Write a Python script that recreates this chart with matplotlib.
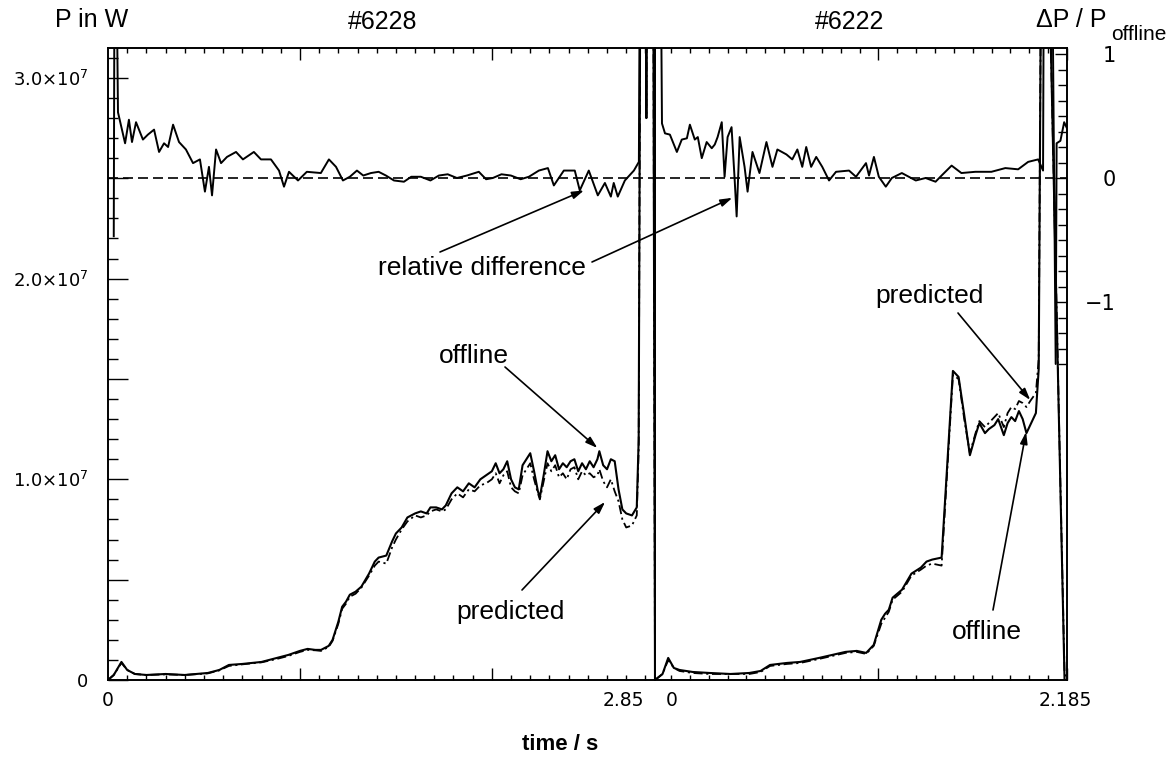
import numpy as np
import matplotlib.pyplot as plt

# shot #6228, time in s, power in MW
t_6228 = [0.00, 0.03, 0.07, 0.10, 0.14, 0.20, 0.30, 0.40, 0.52, 0.58,
          0.63, 0.70, 0.80, 0.88, 0.94, 1.00, 1.04, 1.08, 1.11, 1.15,
          1.17, 1.20, 1.22, 1.24, 1.26, 1.29, 1.32, 1.36, 1.39, 1.41,
          1.45, 1.48, 1.50, 1.53, 1.56, 1.60, 1.63, 1.66, 1.68, 1.71,
          1.74, 1.76, 1.79, 1.82, 1.85, 1.88, 1.91, 1.94, 1.97, 2.00,
          2.02, 2.04, 2.06, 2.08, 2.10, 2.12, 2.14, 2.16, 2.18, 2.20,
          2.22, 2.24, 2.25, 2.27, 2.29, 2.31, 2.33, 2.35, 2.37, 2.39,
          2.41, 2.43, 2.45, 2.47, 2.49, 2.51, 2.53, 2.55, 2.56, 2.58,
          2.60, 2.62, 2.64, 2.66, 2.68, 2.70, 2.73, 2.755, 2.765, 2.775,
          2.80, 2.805, 2.81, 2.84, 2.85]
p_offline_6228 = [0.0, 0.25, 0.9, 0.5, 0.3, 0.25, 0.3, 0.25, 0.35, 0.5,
                  0.75, 0.8, 0.9, 1.1, 1.25, 1.45, 1.55, 1.5, 1.5, 1.7,
                  2.0, 2.9, 3.65, 3.9, 4.25, 4.4, 4.65, 5.3, 5.9, 6.1,
                  6.2, 6.9, 7.3, 7.6, 8.1, 8.3, 8.4, 8.3, 8.6, 8.6,
                  8.5, 8.7, 9.3, 9.6, 9.4, 9.8, 9.6, 10.0, 10.2, 10.4,
                  10.8, 10.3, 10.5, 10.9, 10.0, 9.6, 9.5, 10.7, 11.0, 11.3,
                  10.4, 9.4, 9.1, 10.2, 11.4, 10.9, 11.2, 10.5, 10.8, 10.6,
                  10.9, 11.0, 10.4, 10.8, 10.5, 10.9, 10.6, 11.0, 11.4, 10.7,
                  10.5, 11.0, 10.9, 9.5, 8.5, 8.3, 8.2, 8.6, 12.0, 40.0,
                  40.0, 28.0, 40.0, 40.0, 0.0]
p_predicted_6228 = [0.0, 0.25, 0.85, 0.5, 0.3, 0.25, 0.28, 0.25, 0.33, 0.48,
                    0.7, 0.78, 0.88, 1.05, 1.2, 1.4, 1.5, 1.48, 1.45, 1.65,
                    1.95, 2.8, 3.55, 3.8, 4.15, 4.3, 4.6, 5.2, 5.7, 5.9,
                    5.8, 6.6, 7.0, 7.5, 7.9, 8.2, 8.1, 8.2, 8.4, 8.5,
                    8.4, 8.5, 9.0, 9.3, 9.1, 9.5, 9.4, 9.7, 9.8, 10.0,
                    10.3, 9.8, 10.2, 10.4, 9.6, 9.4, 9.3, 10.2, 10.5, 10.8,
                    10.0, 9.3, 9.0, 9.9, 10.8, 10.4, 10.7, 10.1, 10.3, 10.0,
                    10.5, 10.6, 10.0, 10.4, 10.2, 10.3, 10.1, 10.2, 10.5, 9.9,
                    9.6, 10.0, 9.4, 8.9, 8.0, 7.6, 7.7, 8.2, 11.5, 40.0,
                    40.0, 28.0, 40.0, 40.0, 0.0]
t_rel_6228 = [0.030, 0.036, 0.052, 0.089, 0.109, 0.125, 0.146, 0.182, 0.208, 0.240,
              0.266, 0.292, 0.313, 0.339, 0.370, 0.406, 0.443, 0.479, 0.505, 0.526,
              0.542, 0.563, 0.589, 0.620, 0.667, 0.703, 0.760, 0.797, 0.849, 0.891,
              0.917, 0.943, 0.990, 1.036, 1.109, 1.151, 1.188, 1.224, 1.260, 1.297,
              1.330, 1.370, 1.410, 1.448, 1.490, 1.542, 1.580, 1.630, 1.680, 1.724,
              1.770, 1.818, 1.870, 1.932, 1.970, 2.005, 2.050, 2.099, 2.150, 2.193,
              2.245, 2.292, 2.323, 2.375, 2.432, 2.458, 2.505, 2.552, 2.589, 2.620,
              2.635, 2.656, 2.693, 2.740, 2.766, 2.775, 2.850]
rel_6228 = [-0.47, 3.0, 0.53, 0.28, 0.47, 0.29, 0.45, 0.31, 0.35, 0.39,
            0.21, 0.28, 0.25, 0.43, 0.29, 0.23, 0.12, 0.15, -0.11, 0.09,
            -0.14, 0.23, 0.12, 0.17, 0.21, 0.15, 0.21, 0.15, 0.15, 0.06,
            -0.07, 0.05, -0.02, 0.05, 0.04, 0.15, 0.09, -0.02, 0.01, 0.06,
            0.02, 0.04, 0.05, 0.02, -0.02, -0.03, 0.01, 0.01, -0.02, 0.02,
            0.03, 0.00, 0.02, 0.05, -0.01, 0.00, 0.03, 0.02, -0.01, 0.01,
            0.06, 0.08, -0.06, 0.06, 0.06, -0.10, 0.06, -0.14, -0.04, -0.15,
            -0.04, -0.15, -0.02, 0.06, 0.13, 3.0, 3.0]

# shot #6222
t_6222 = [0.00, 0.04, 0.07, 0.10, 0.13, 0.20, 0.29, 0.40, 0.50, 0.56,
          0.61, 0.70, 0.77, 0.82, 0.87, 0.94, 1.01, 1.07, 1.12, 1.16,
          1.20, 1.22, 1.24, 1.26, 1.31, 1.36, 1.41, 1.44, 1.47, 1.52,
          1.58, 1.61, 1.64, 1.67, 1.70, 1.72, 1.75, 1.77, 1.80, 1.82,
          1.85, 1.87, 1.89, 1.91, 1.93, 1.95, 1.97, 1.99, 2.02, 2.035,
          2.05, 2.08, 2.172, 2.185]
p_offline_6222 = [0.0, 0.3, 1.1, 0.6, 0.5, 0.4, 0.35, 0.3, 0.35, 0.45,
                  0.75, 0.85, 0.9, 1.0, 1.1, 1.25, 1.4, 1.45, 1.35, 1.75,
                  3.0, 3.3, 3.5, 4.1, 4.5, 5.3, 5.6, 5.9, 6.0, 6.1,
                  15.4, 15.1, 13.2, 11.2, 12.2, 12.8, 12.3, 12.5, 12.7, 13.0,
                  12.2, 12.8, 13.1, 12.9, 13.4, 13.0, 12.3, 12.7, 13.3, 15.5,
                  40.0, 40.0, 0.0, 0.0]
p_predicted_6222 = [0.0, 0.3, 1.0, 0.6, 0.45, 0.35, 0.3, 0.3, 0.3, 0.4,
                    0.7, 0.8, 0.85, 0.95, 1.05, 1.2, 1.35, 1.4, 1.3, 1.7,
                    2.8, 3.1, 3.4, 4.0, 4.4, 5.2, 5.5, 5.7, 5.8, 5.7,
                    15.2, 15.0, 13.0, 11.3, 12.3, 12.9, 12.6, 12.8, 13.1, 13.3,
                    12.6, 13.3, 13.6, 13.5, 13.9, 13.8, 13.6, 13.9, 14.3, 16.0,
                    40.0, 40.0, 0.3, 0.0]
t_rel_6222 = [0.025, 0.037, 0.053, 0.079, 0.116, 0.142, 0.169, 0.185, 0.211, 0.227,
              0.248, 0.274, 0.301, 0.317, 0.332, 0.354, 0.369, 0.385, 0.406, 0.422,
              0.433, 0.449, 0.475, 0.491, 0.517, 0.554, 0.591, 0.623, 0.649, 0.697,
              0.728, 0.755, 0.781, 0.802, 0.828, 0.855, 0.887, 0.923, 0.960, 1.029,
              1.066, 1.119, 1.135, 1.161, 1.187, 1.224, 1.256, 1.309, 1.383, 1.435,
              1.488, 1.520, 1.573, 1.625, 1.699, 1.784, 1.858, 1.926, 1.979, 2.032,
              2.058, 2.065, 2.100, 2.125, 2.130, 2.150, 2.170, 2.185]
rel_6222 = [3.0, 0.44, 0.36, 0.35, 0.21, 0.31, 0.32, 0.43, 0.31, 0.33,
            0.16, 0.29, 0.24, 0.27, 0.33, 0.45, 0.01, 0.33, 0.41, 0.0,
            -0.31, 0.33, 0.09, -0.11, 0.21, 0.04, 0.29, 0.09, 0.23, 0.19,
            0.15, 0.23, 0.09, 0.25, 0.09, 0.17, 0.09, -0.02, 0.05, 0.06,
            0.01, 0.12, 0.02, 0.17, 0.01, -0.07, 0.0, 0.04, -0.02, 0.0,
            -0.03, 0.02, 0.10, 0.04, 0.05, 0.05, 0.08, 0.07, 0.13, 0.15,
            0.06, 3.0, 3.0, -1.5, 0.28, 0.30, 0.45, 0.40]

plt.rcParams['font.family'] = 'DejaVu Sans'
plt.rcParams['mathtext.default'] = 'regular'

W, H = 1170, 759
fig = plt.figure(figsize=(W / 100, H / 100), dpi=100)


def box(x0, x1, y0=48, y1=680):
    return [x0 / W, 1 - y1 / H, (x1 - x0) / W, (y1 - y0) / H]


def px(x, y):
    return x / W, 1 - y / H


axL = fig.add_axes(box(108, 655))
axR = fig.add_axes(box(655, 1067))
axL2 = axL.twinx()
axR2 = axR.twinx()

dashdot = (0, (5, 2, 1.2, 2))
axL.plot(t_6228, np.array(p_offline_6228) * 1e6, color='k', lw=1.5)
axL.plot(t_6228, np.array(p_predicted_6228) * 1e6, color='k', lw=1.3, ls=dashdot)
axR.plot(t_6222, np.array(p_offline_6222) * 1e6, color='k', lw=1.5)
axR.plot(t_6222, np.array(p_predicted_6222) * 1e6, color='k', lw=1.3, ls=dashdot)

axL2.plot(t_rel_6228, rel_6228, color='k', lw=1.4)
axR2.plot(t_rel_6222, rel_6222, color='k', lw=1.4)
for a in (axL2, axR2):
    a.axhline(0, color='k', lw=1.2, ls=(0, (6, 3)))

p_top = (680 - 48) / 200.7 * 1e7
for a in (axL, axR):
    a.set_ylim(0, p_top)
for a in (axL2, axR2):
    a.set_ylim(-(680 - 178) / 124, (178 - 48) / 124)
axL.set_xlim(0, 2.85)
axR.set_xlim(0, 2.185)

for a in (axL, axR, axL2, axR2):
    for s in a.spines.values():
        s.set_linewidth(1.2)

# time ticks
axL.set_xticks([1.0, 2.0])
axL.set_xticks(np.arange(0.1, 2.85, 0.1), minor=True)
axR.set_xticks([1.185, 2.185])
axR.set_xticks(2.185 - 0.1 * np.arange(1, 22), minor=True)
for a in (axL, axR):
    a.tick_params(axis='x', which='both', direction='in', top=True, bottom=True,
                  labelbottom=False, width=1)
    a.tick_params(axis='x', which='major', length=8.5)
    a.tick_params(axis='x', which='minor', length=3.6)

# power axis
axL.set_yticks(np.arange(0, 3.1e7, 5e6),
               ['0', '', r'1.0$\times$10$^7$', '', r'2.0$\times$10$^7$', '', r'3.0$\times$10$^7$'])
axL.set_yticks(np.arange(0, 3.15e7, 1e6), minor=True)
axL.tick_params(axis='y', which='both', direction='in', left=True, right=False,
                labelsize=13, pad=14, width=1)
axL.tick_params(axis='y', which='major', length=14.4)
axL.tick_params(axis='y', which='minor', length=7.2)
axR.set_yticks([])
axL2.set_yticks([])

# relative difference axis
axR2.set_yticks([-1, 0, 1], ['\u22121', '0', '1'])
axR2.set_yticks(np.arange(-1.5, 1.01, 0.125), minor=True)
axR2.tick_params(axis='y', which='both', direction='in', right=True, labelsize=15,
                 pad=35, width=1)
axR2.tick_params(axis='y', which='major', length=8.6)
axR2.tick_params(axis='y', which='minor', length=6.5)
for lbl in axR2.get_yticklabels():
    lbl.set_horizontalalignment('right')

# time tick labels
for x, s in [(108, '0'), (623, '2.85'), (672, '0'), (1065, '2.185')]:
    fig.text(*px(x, 700), s, fontsize=13.5, ha='center', va='center')

hel = dict(family='Liberation Sans', color='k')
fig.text(*px(55, 20), 'P in W', fontsize=18, ha='left', va='center', **hel)
fig.text(*px(383, 22), '#6228', fontsize=18, ha='center', va='center', **hel)
fig.text(*px(850, 22), '#6222', fontsize=18, ha='center', va='center', **hel)
fig.text(*px(1036, 20), '\u0394P / P', fontsize=18, ha='left', va='center', **hel)
fig.text(*px(1167, 34), 'offline', fontsize=15, ha='right', va='center', **hel)
fig.text(*px(560, 745), 'time / s', fontsize=16, fontweight='bold', ha='center',
         va='center', **hel)

for x, y, s in [(482, 268, 'relative difference'), (474, 356, 'offline'),
                (511, 612, 'predicted'), (930, 296, 'predicted'), (987, 632, 'offline')]:
    fig.text(*px(x, y), s, fontsize=19, ha='center', va='center', **hel)

arrow = dict(arrowstyle='-|>,head_length=0.7,head_width=0.22', lw=1.2, color='k',
             shrinkA=0, shrinkB=0)
for a, head, tail in [(axL2, (2.48, -0.10), (440, 252)),
                      (axR2, (0.41, -0.16), (592, 262)),
                      (axL, (2.55, 1.156e7), (505, 367)),
                      (axL, (2.59, 0.887e7), (522, 590)),
                      (axR, (1.99, 1.395e7), (958, 313)),
                      (axR, (1.968, 1.236e7), (993, 610))]:
    a.annotate('', xy=head, xytext=(tail[0], H - tail[1]), textcoords='figure pixels',
               arrowprops=arrow)

fig.savefig('out.png', dpi=100)
